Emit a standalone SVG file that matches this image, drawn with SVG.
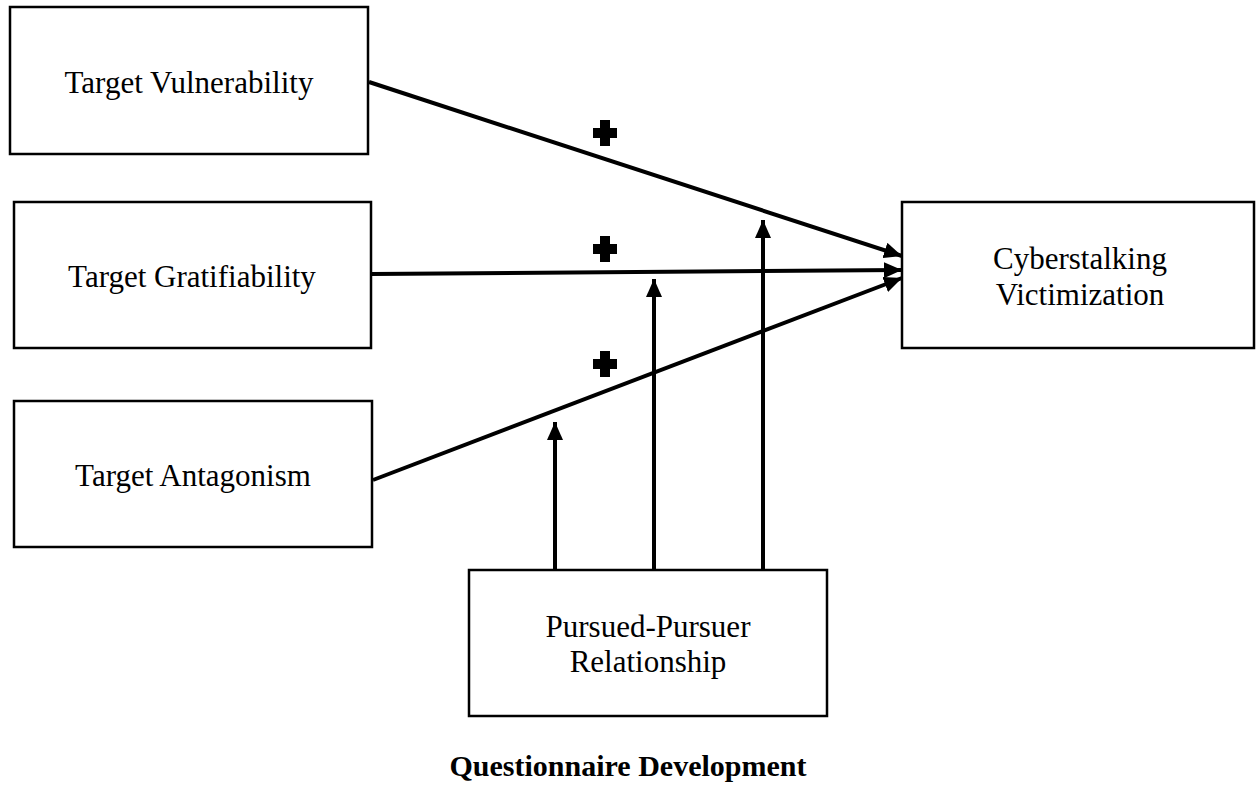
<svg xmlns="http://www.w3.org/2000/svg" width="1257" height="786" viewBox="0 0 1257 786">
<style>
.box{fill:#fff;stroke:#000;stroke-width:2.5}
.lbl{font-family:"Liberation Serif","Times New Roman",serif;font-size:31px;fill:#000;text-anchor:middle}
.title{font-family:"Liberation Serif","Times New Roman",serif;font-size:30px;font-weight:bold;fill:#000;text-anchor:middle}
.edge{stroke:#000;stroke-width:4;fill:none}
.plus{fill:#000}
</style>
<defs>
<marker id="ah" markerUnits="userSpaceOnUse" markerWidth="18" markerHeight="16" refX="18" refY="8" orient="auto">
<path d="M0,0 L18,8 L0,16 Z" fill="#000"/>
</marker>
<path id="cross" d="M-5,-13 H5 V-5 H12 V5 H5 V13 H-5 V5 H-12 V-5 H-5 Z"/>
</defs>
<rect width="1257" height="786" fill="#fff"/>
<g id="n-vulnerability">
<rect class="box" x="10" y="7" width="358" height="147"/>
<text class="lbl" x="189" y="93">Target Vulnerability</text>
</g>
<g id="n-gratifiability">
<rect class="box" x="14" y="202" width="357" height="146"/>
<text class="lbl" x="192" y="287">Target Gratifiability</text>
</g>
<g id="n-antagonism">
<rect class="box" x="14" y="401" width="358" height="146"/>
<text class="lbl" x="193" y="486">Target Antagonism</text>
</g>
<g id="n-cyberstalking">
<rect class="box" x="902" y="202" width="352" height="146"/>
<text class="lbl" x="1080" y="269">Cyberstalking</text>
<text class="lbl" x="1080" y="305">Victimization</text>
</g>
<g id="n-relationship">
<rect class="box" x="469" y="570" width="358" height="146"/>
<text class="lbl" x="648" y="637">Pursued-Pursuer</text>
<text class="lbl" x="648" y="672">Relationship</text>
</g>
<g id="connectors">
<line class="edge" x1="369" y1="82" x2="902" y2="256" marker-end="url(#ah)"/>
<line class="edge" x1="372" y1="274" x2="902" y2="270" marker-end="url(#ah)"/>
<line class="edge" x1="373" y1="480" x2="902" y2="278" marker-end="url(#ah)"/>
<line class="edge" x1="555" y1="571" x2="555" y2="422" marker-end="url(#ah)"/>
<line class="edge" x1="654" y1="571" x2="654" y2="279" marker-end="url(#ah)"/>
<line class="edge" x1="763" y1="571" x2="763" y2="220" marker-end="url(#ah)"/>
</g>
<g id="signs">
<use href="#cross" class="plus" x="605" y="133"/>
<use href="#cross" class="plus" x="605" y="249"/>
<use href="#cross" class="plus" x="605" y="364"/>
</g>
<g id="title">
<text class="title" x="628" y="776">Questionnaire Development</text>
</g>
</svg>
